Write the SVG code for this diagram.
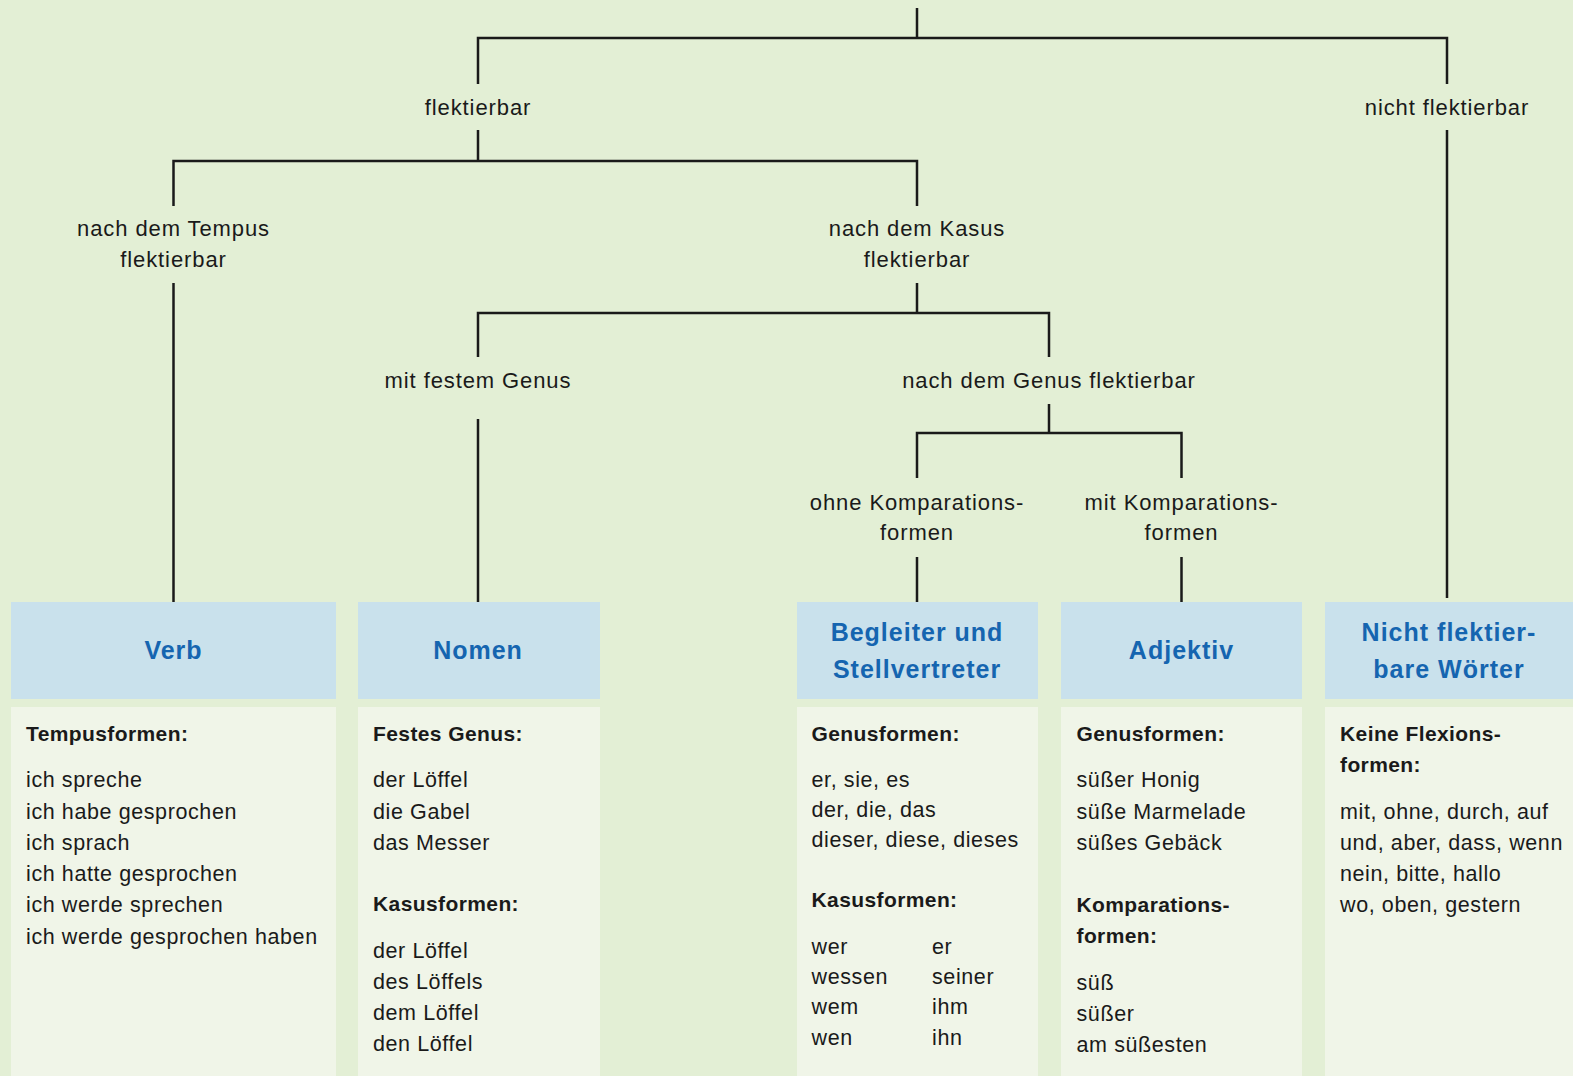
<svg xmlns="http://www.w3.org/2000/svg" width="1573" height="1076" viewBox="0 0 1573 1076">
<style>
.bg{fill:#e3efd5}
.hd{fill:#c9e1ec}
.ct{fill:#f0f5e8}
.ln{stroke:#1a1a1a;stroke-width:2.5;fill:none}
.lbl{font-family:"Liberation Sans",Arial,sans-serif;font-size:22px;letter-spacing:0.9px;fill:#1a1a1a;text-anchor:middle}
.ttl{font-family:"Liberation Sans",Arial,sans-serif;font-size:25px;font-weight:bold;letter-spacing:1px;fill:#1565b0;text-anchor:middle}
.h{font-family:"Liberation Sans",Arial,sans-serif;font-size:21px;font-weight:bold;letter-spacing:0.4px;fill:#1a1a1a}
.t{font-family:"Liberation Sans",Arial,sans-serif;font-size:21.5px;letter-spacing:0.6px;fill:#1a1a1a}
</style>
<rect class="bg" x="0" y="0" width="1573" height="1076"/>
<g id="connectors">
<path class="ln" d="M917 8V38M478 84V38H1447V84"/>
<path class="ln" d="M478 130V161M173.5 206V161H917V206"/>
<path class="ln" d="M173.5 283V602"/>
<path class="ln" d="M917 283V313M478 357V313H1049V357"/>
<path class="ln" d="M478 419V602"/>
<path class="ln" d="M1049 404V433M917 478V433H1181.5V478"/>
<path class="ln" d="M917 557V602M1181.5 557V602"/>
<path class="ln" d="M1447 130V598"/>
</g>
<g id="label-flektierbar"><text class="lbl" x="478" y="115">flektierbar</text></g>
<g id="label-nicht-flektierbar"><text class="lbl" x="1447" y="115">nicht flektierbar</text></g>
<g id="label-tempus"><text class="lbl" x="173.5" y="236">nach dem Tempus</text><text class="lbl" x="173.5" y="267">flektierbar</text></g>
<g id="label-kasus"><text class="lbl" x="917" y="236">nach dem Kasus</text><text class="lbl" x="917" y="267">flektierbar</text></g>
<g id="label-festem-genus"><text class="lbl" x="478" y="388">mit festem Genus</text></g>
<g id="label-genus-flektierbar"><text class="lbl" x="1049" y="388">nach dem Genus flektierbar</text></g>
<g id="label-ohne-komp"><text class="lbl" x="917" y="510">ohne Komparations-</text><text class="lbl" x="917" y="540">formen</text></g>
<g id="label-mit-komp"><text class="lbl" x="1181.5" y="510">mit Komparations-</text><text class="lbl" x="1181.5" y="540">formen</text></g>

<g id="node-verb">
<rect class="hd" x="11" y="602" width="325" height="97"/>
<rect class="ct" x="11" y="707" width="325" height="369"/>
<text class="ttl" x="173.5" y="659">Verb</text>
<text class="h" x="26" y="741">Tempusformen:</text>
<text class="t" x="26" y="787">ich spreche</text>
<text class="t" x="26" y="819">ich habe gesprochen</text>
<text class="t" x="26" y="850">ich sprach</text>
<text class="t" x="26" y="881">ich hatte gesprochen</text>
<text class="t" x="26" y="912">ich werde sprechen</text>
<text class="t" x="26" y="943.5">ich werde gesprochen haben</text>
</g>
<g id="node-nomen">
<rect class="hd" x="358" y="602" width="242" height="97"/>
<rect class="ct" x="358" y="707" width="242" height="369"/>
<text class="ttl" x="478" y="659">Nomen</text>
<text class="h" x="373" y="741">Festes Genus:</text>
<text class="t" x="373" y="787">der Löffel</text>
<text class="t" x="373" y="819">die Gabel</text>
<text class="t" x="373" y="850">das Messer</text>
<text class="h" x="373" y="911">Kasusformen:</text>
<text class="t" x="373" y="957.5">der Löffel</text>
<text class="t" x="373" y="988.5">des Löffels</text>
<text class="t" x="373" y="1019.5">dem Löffel</text>
<text class="t" x="373" y="1050.5">den Löffel</text>
</g>
<g id="node-begleiter">
<rect class="hd" x="797" y="602" width="241" height="97"/>
<rect class="ct" x="797" y="707" width="241" height="369"/>
<text class="ttl" x="917" y="641">Begleiter und</text>
<text class="ttl" x="917" y="678">Stellvertreter</text>
<text class="h" x="811.5" y="741">Genusformen:</text>
<text class="t" x="811.5" y="787">er, sie, es</text>
<text class="t" x="811.5" y="817">der, die, das</text>
<text class="t" x="811.5" y="847">dieser, diese, dieses</text>
<text class="h" x="811.5" y="907">Kasusformen:</text>
<text class="t" x="811.5" y="953.5">wer</text>
<text class="t" x="811.5" y="983.5">wessen</text>
<text class="t" x="811.5" y="1013.5">wem</text>
<text class="t" x="811.5" y="1044.5">wen</text>
<text class="t" x="932" y="953.5">er</text>
<text class="t" x="932" y="983.5">seiner</text>
<text class="t" x="932" y="1013.5">ihm</text>
<text class="t" x="932" y="1044.5">ihn</text>
</g>
<g id="node-adjektiv">
<rect class="hd" x="1061" y="602" width="241" height="97"/>
<rect class="ct" x="1061" y="707" width="241" height="369"/>
<text class="ttl" x="1181.5" y="659">Adjektiv</text>
<text class="h" x="1076.5" y="741">Genusformen:</text>
<text class="t" x="1076.5" y="787">süßer Honig</text>
<text class="t" x="1076.5" y="819">süße Marmelade</text>
<text class="t" x="1076.5" y="850">süßes Gebäck</text>
<text class="h" x="1076.5" y="912">Komparations-</text>
<text class="h" x="1076.5" y="942.5">formen:</text>
<text class="t" x="1076.5" y="989.5">süß</text>
<text class="t" x="1076.5" y="1020.5">süßer</text>
<text class="t" x="1076.5" y="1051.5">am süßesten</text>
</g>
<g id="node-nicht-flektierbar">
<rect class="hd" x="1325" y="602" width="248" height="97"/>
<rect class="ct" x="1325" y="707" width="248" height="369"/>
<text class="ttl" x="1449" y="641">Nicht flektier-</text>
<text class="ttl" x="1449" y="678">bare Wörter</text>
<text class="h" x="1340" y="741">Keine Flexions-</text>
<text class="h" x="1340" y="772">formen:</text>
<text class="t" x="1340" y="819">mit, ohne, durch, auf</text>
<text class="t" x="1340" y="850">und, aber, dass, wenn</text>
<text class="t" x="1340" y="881">nein, bitte, hallo</text>
<text class="t" x="1340" y="912">wo, oben, gestern</text>
</g>
</svg>
